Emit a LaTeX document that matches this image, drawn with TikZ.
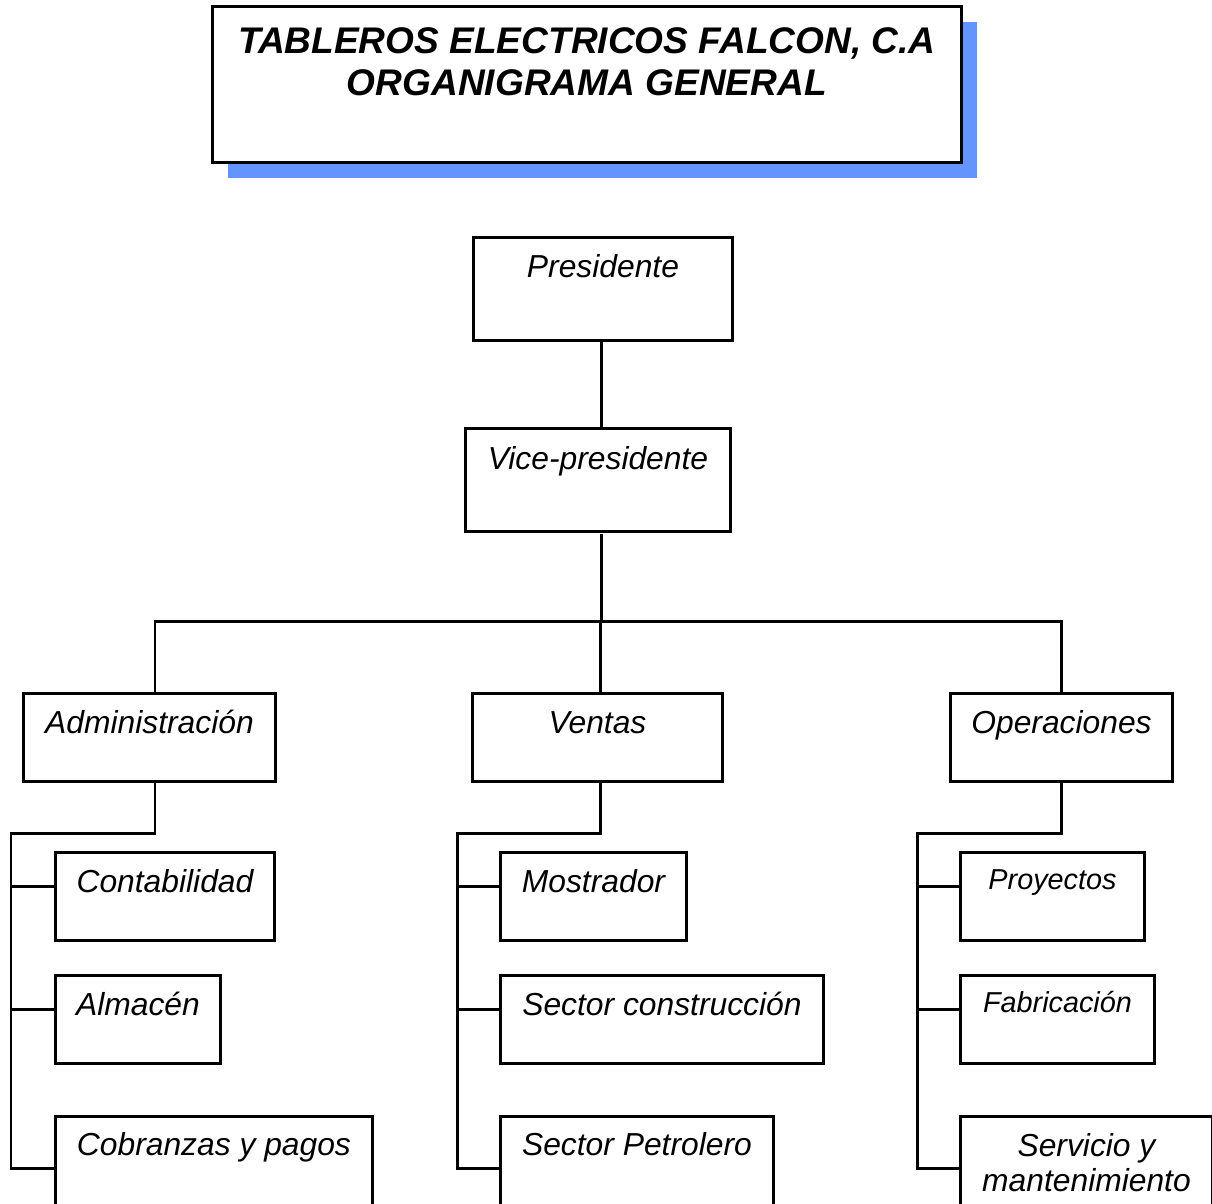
\documentclass[tikz,border=0pt]{standalone}
\usepackage{fontspec}
\setmainfont{Liberation Sans}
\usetikzlibrary{positioning, shadows}

\definecolor{shadowblue}{HTML}{6495FF}

\tikzset{
  box/.style = {draw, rectangle, inner sep=0pt, anchor=north west,
                font=\fontsize{18.1}{19.8}\selectfont\itshape, align=center,
                text height=0.8cm, text depth=0.96cm},
  tall/.style = {text depth=1.26cm},
  low/.style = {text depth=1.2cm},
  small/.style = {font=\fontsize{16.4}{19.8}\selectfont\itshape, text height=0.74cm, text depth=1.02cm},
  link/.style = {draw, line cap=rect}
}

\begin{document}
\begin{tikzpicture} [x=0.02cm, y=-0.02cm, line width=1.7pt]

\useasboundingbox (0,0) rectangle (1212,1203);

% titulo
\node (title) [draw, fill=white, inner sep=0pt, anchor=north west,
    minimum width=14.98cm, text height=1.78cm, text depth=1.34cm, align=center,
    font=\fontsize{21.1}{23.8}\selectfont\bfseries\itshape,
    drop shadow={fill=shadowblue, opacity=1, shadow xshift=0.31cm, shadow yshift=-0.32cm}]
    at (211,5) {TABLEROS ELECTRICOS FALCON, C.A\\ORGANIGRAMA GENERAL};

% direccion
\node (pres) [box, tall, minimum width=5.18cm] at (472,236) {Presidente};
\node (vp) [box, tall, minimum width=5.3cm, text height=0.82cm, text depth=1.24cm] at (464,427) {Vice-presidente};

% departamentos
\node (adm) [box, minimum width=5.04cm] at (22,692) {Administración};
\node (ven) [box, minimum width=5cm] at (471,692) {Ventas};
\node (ope) [box, minimum width=4.44cm] at (949,692) {Operaciones};

% administracion
\node (cont) [box, minimum width=4.38cm] at (54,851) {Contabilidad};
\node (alm) [box, minimum width=3.3cm] at (54,974) {Almacén};
\node (cob) [box, low, minimum width=6.34cm, text height=0.78cm] at (54,1115) {Cobranzas y pagos};

% ventas
\node (mos) [box, minimum width=3.72cm] at (499,851) {Mostrador};
\node (secc) [box, minimum width=6.46cm] at (499,974) {Sector construcción};
\node (secp) [box, low, minimum width=5.46cm, text height=0.78cm] at (499,1115) {Sector Petrolero};

% operaciones
\node (proy) [box, small, minimum width=3.68cm] at (959,851) {Proyectos};
\node (fab) [box, small, minimum width=3.88cm] at (959,974) {Fabricación};
\node (serv) [box, minimum width=5.04cm, text height=1.5cm, text depth=0.5cm] at (959,1115) {Servicio y\\mantenimiento};

% puntos de union
\coordinate (trunk) at (601,621);
\coordinate (busL) at (155,621);
\coordinate (busR) at (1061,621);
\coordinate (admT) at (155,833);
\coordinate (admS) at (11,833);
\coordinate (venT) at (600,833);
\coordinate (venS) at (457,833);
\coordinate (opeT) at (1061,833);
\coordinate (opeS) at (917,833);

\path [link] (pres.south -| trunk) -- (vp.north -| trunk);
\path [link] (vp.south -| trunk) ++(0,3) -- (trunk);
\path [link] (busL) -- (busR);
\path [link] (busL) -- (adm.north -| busL);
\path [link] (trunk -| venT) -- (ven.north -| venT);
\path [link] (busR) -- (ope.north -| busR);

\path [link] (adm.south -| admT) -- (admT) -- (admS) -- (11,1168);
\path [link] (ven.south -| venT) -- (venT) -- (venS) -- (457,1168);
\path [link] (ope.south -| opeT) -- (opeT) -- (opeS) -- (917,1168);

\foreach \y/\a/\b/\c in {886/cont/mos/proy, 1009/alm/secc/fab, 1168/cob/secp/serv} {
  \path [link] (11,\y) -- (\a.west |- 0,\y);
  \path [link] (457,\y) -- (\b.west |- 0,\y);
  \path [link] (917,\y) -- (\c.west |- 0,\y);
}

\end{tikzpicture}
\end{document}
